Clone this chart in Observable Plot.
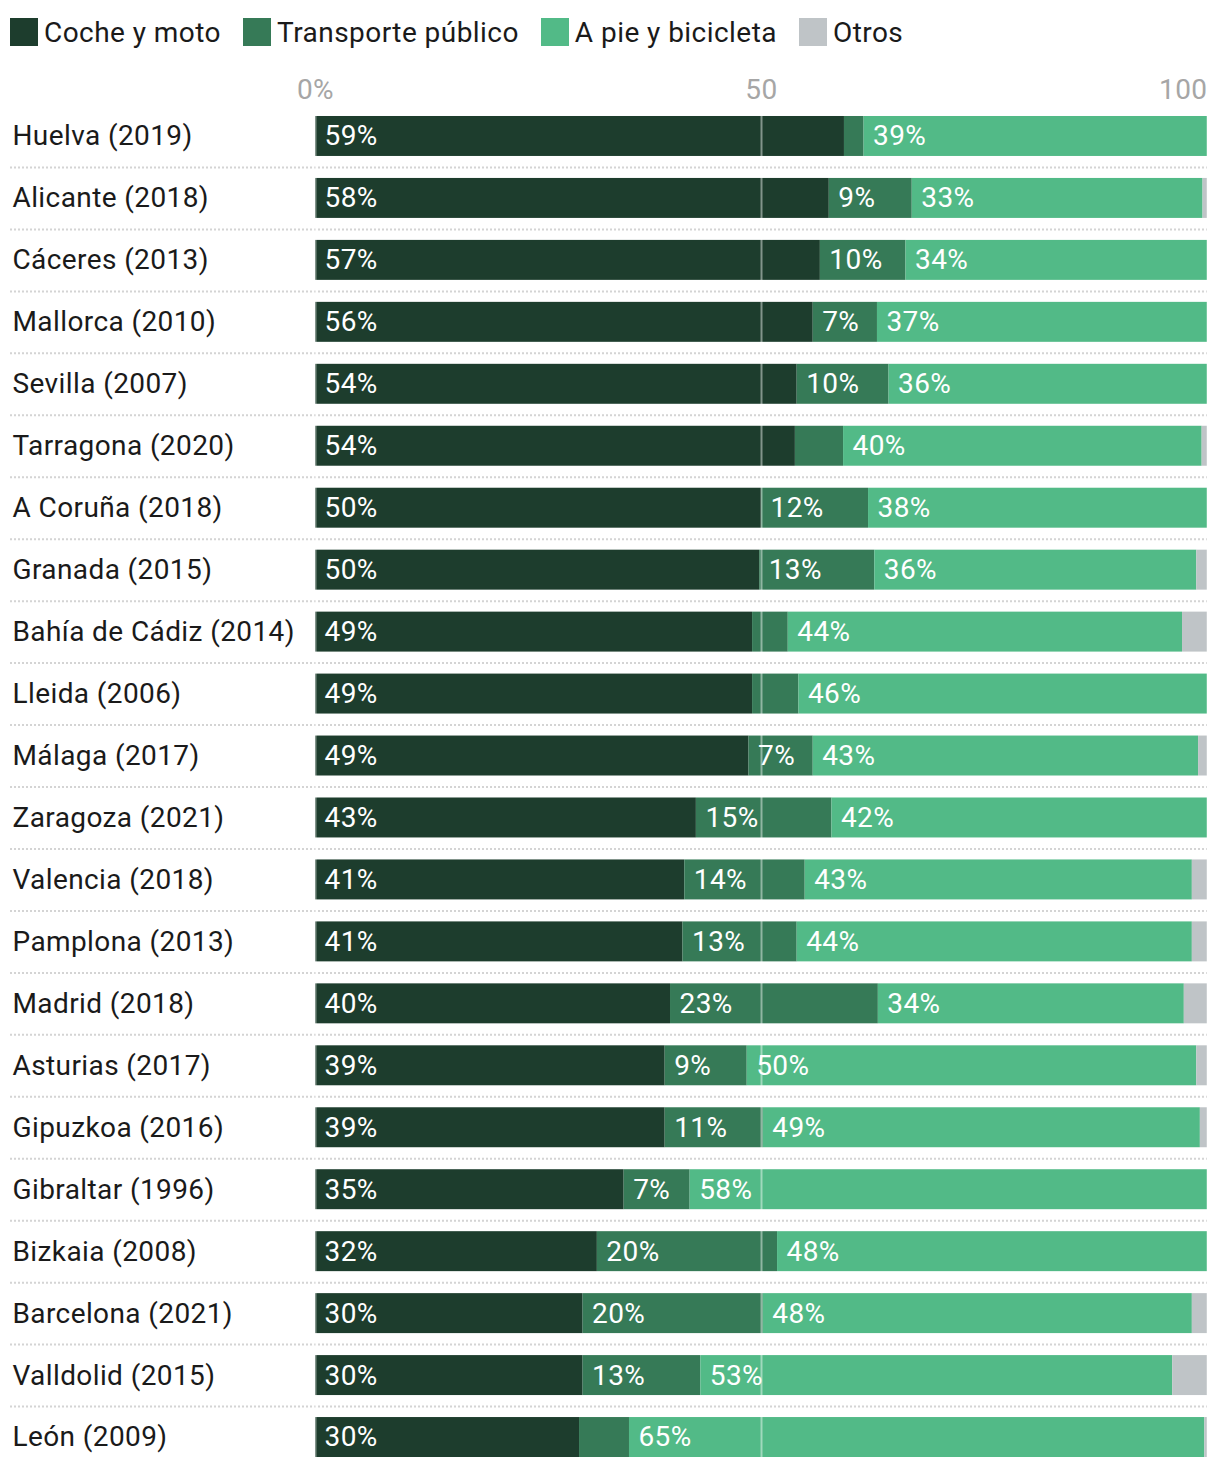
<!DOCTYPE html>
<html>
<head>
<meta charset="utf-8">
<script src="https://cdn.jsdelivr.net/npm/d3@7"></script>
<script src="https://cdn.jsdelivr.net/npm/@observablehq/plot@0.6"></script>
<style>
  html, body { margin: 0; padding: 0; background: #fff; }
  body { width: 1220px; font-family: Roboto, "Noto Sans", sans-serif; }
  #legend { display: flex; align-items: center; height: 64px; padding-left: 10px; box-sizing: border-box; }
  .item { display: flex; align-items: center; margin-right: 22px; font-size: 28px; letter-spacing: 0.45px; color: #1a1a1a; }
  .sw { width: 28px; height: 28px; margin-right: 6px; }
  #chart svg { display: block; }
  #chart svg text { letter-spacing: 0.4px; }
</style>
</head>
<body>
<div id="legend"></div>
<div id="chart"></div>
<script>
const cities = ["Huelva (2019)","Alicante (2018)","Cáceres (2013)","Mallorca (2010)","Sevilla (2007)","Tarragona (2020)","A Coruña (2018)","Granada (2015)","Bahía de Cádiz (2014)","Lleida (2006)","Málaga (2017)","Zaragoza (2021)","Valencia (2018)","Pamplona (2013)","Madrid (2018)","Asturias (2017)","Gipuzkoa (2016)","Gibraltar (1996)","Bizkaia (2008)","Barcelona (2021)","Valldolid (2015)","León (2009)"];
const cocheMoto  = [59.3,57.6,56.6,55.8,54.0,53.8,50.0,49.8,49.0,49.0,48.6,42.7,41.4,41.2,39.8,39.2,39.2,34.6,31.6,30.0,30.0,29.6];
const transporte = [2.2,9.3,9.6,7.2,10.3,5.4,12.0,12.9,4.0,5.2,7.2,15.2,13.5,12.8,23.3,9.2,11.0,7.4,20.2,20.2,13.2,5.6];
const apieBici   = [38.5,32.6,33.8,37.0,35.7,40.2,38.0,36.1,44.2,45.8,43.2,42.1,43.4,44.3,34.3,50.4,49.0,58.0,48.2,48.1,52.9,64.5];
const otros      = [0,0.5,0,0,0,0.6,0,1.2,2.8,0,1.0,0,1.7,1.7,2.6,1.2,0.8,0,0,1.7,3.9,0.3];
const modes = ["Coche y moto","Transporte público","A pie y bicicleta","Otros"];
const colors = ["#1d3d2d","#367a57","#52ba87","#bfc4c7"];
const ticks = [0,50,100];
const tickLabels = ["0%","50","100"];

// legend
const legend = document.getElementById("legend");
modes.forEach((m,i) => {
  const it = document.createElement("div"); it.className = "item";
  const sw = document.createElement("div"); sw.className = "sw"; sw.style.background = colors[i];
  const tx = document.createElement("span"); tx.textContent = m;
  it.appendChild(sw); it.appendChild(tx); legend.appendChild(it);
});

const series = [cocheMoto, transporte, apieBici, otros];
const data = [];
cities.forEach((c, i) => {
  modes.forEach((m, j) => data.push({city: c, mode: m, value: series[j][i]}));
});

const chart = Plot.plot({
  width: 1220,
  height: 1404,
  marginTop: 41,
  marginLeft: 315,
  marginRight: 13,
  marginBottom: 0,
  style: {fontFamily: "Roboto, 'Noto Sans', sans-serif", background: "#fff"},
  x: {domain: [0, 100], axis: null},
  y: {domain: cities, axis: null, paddingInner: 0.355, paddingOuter: 0.1775, round: false},
  color: {domain: modes, range: colors},
  marks: [
    Plot.ruleY(cities.slice(0, -1), {y: d => d, dy: 31, stroke: "#d4d4d4", strokeWidth: 2, strokeDasharray: "2,2", insetLeft: -305}),
    Plot.barX(data, Plot.stackX({x: "value", y: "city", fill: "mode", z: "mode"})),
    Plot.ruleX(ticks, {x: d => d, stroke: "#ffffff", strokeOpacity: 0.45, strokeWidth: 2}),
    Plot.text(data, Plot.stackX1({x: "value", y: "city", z: "mode",
      text: d => (d.mode !== "Otros" && d.value >= 6) ? Math.round(d.value) + "%" : "",
      textAnchor: "start", dx: 9, fill: "white", fontSize: 28})),
    Plot.text(cities, {y: d => d, text: d => d, frameAnchor: "left", textAnchor: "start", dx: -303, fill: "#1a1a1a", fontSize: 28}),
    Plot.text(ticks.slice(0, 2), {x: d => d, text: (d, i) => tickLabels[i], frameAnchor: "top", dy: -26, fill: "#a6a6a6", fontSize: 28}),
    Plot.text(ticks.slice(2), {x: d => d, text: (d, i) => tickLabels[2 + i], frameAnchor: "top", dy: -26, textAnchor: "end", fill: "#a6a6a6", fontSize: 28})
  ]
});
document.getElementById("chart").appendChild(chart);
</script>
</body>
</html>
